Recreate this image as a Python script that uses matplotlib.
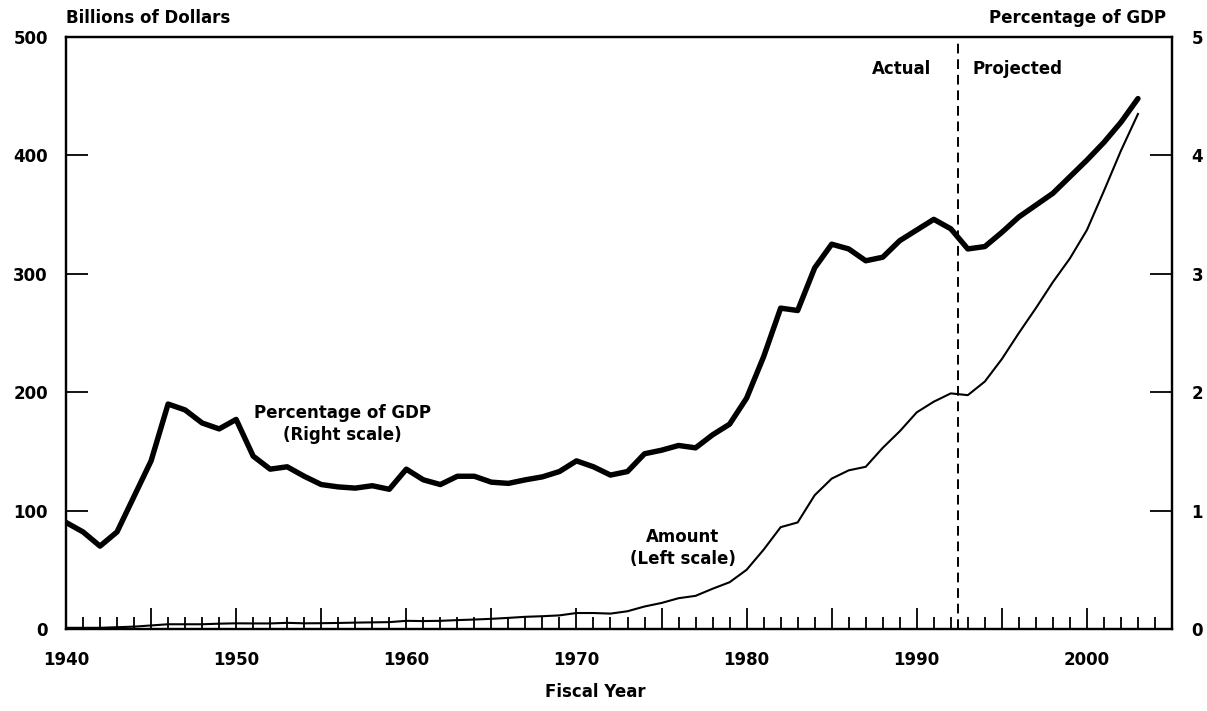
import matplotlib
matplotlib.use("Agg")
import matplotlib.pyplot as plt
from matplotlib.ticker import MultipleLocator, FuncFormatter

plt.rcParams['font.family'] = ['DejaVu Sans']
plt.rcParams['font.weight'] = 'bold'

years = list(range(1940, 2004))

# Net interest, percentage of GDP (right scale)
pct_gdp = [0.90, 0.82, 0.70, 0.82, 1.12, 1.42, 1.90, 1.85, 1.74, 1.69,
           1.77, 1.46, 1.35, 1.37, 1.29, 1.22, 1.20, 1.19, 1.21, 1.18,
           1.35, 1.26, 1.22, 1.29, 1.29, 1.24, 1.23, 1.26, 1.285, 1.33,
           1.42, 1.37, 1.30, 1.33, 1.48, 1.51, 1.55, 1.53, 1.64, 1.73,
           1.95, 2.30, 2.71, 2.69, 3.05, 3.25, 3.21, 3.11, 3.14, 3.28,
           3.37, 3.46, 3.38, 3.21, 3.23, 3.35, 3.48, 3.58, 3.68, 3.82,
           3.96, 4.11, 4.28, 4.48]

# Net interest amount, billions of dollars (left scale)
amount = [1, 1, 1, 1.5, 2, 3, 4, 4, 4, 4.5,
          4.8, 4.7, 4.7, 5.2, 4.8, 4.9, 5.1, 5.4, 5.6, 5.8,
          6.9, 6.7, 6.9, 7.5, 8.0, 8.6, 9.4, 10.3, 10.8, 11.5,
          13.5, 13.5, 13.0, 15.0, 19.0, 22.0, 26.0, 28.0, 34.0, 39.5,
          50.0, 67.0, 86.0, 90.0, 113.0, 127.0, 134.0, 137.0, 153.0, 167.0,
          183.0, 192.0, 199.0, 197.5, 209.0, 228.0, 250.0, 271.0, 293.0, 313.0,
          337.0, 370.0, 404.0, 435.0]

left_ticks = [0, 100, 200, 300, 400, 500]
right_ticks = [0, 1, 2, 3, 4, 5]
divider_year = 1992.4

W, H = 1207, 711
FS = 12
fig = plt.figure(figsize=(W / 100, H / 100), dpi=100)
ax = fig.add_axes([66 / W, 1 - 629 / H, (1172 - 66) / W, (629 - 37) / H])
ax2 = ax.twinx()

ax.set_xlim(1940, 2005)
ax.set_ylim(0, 500)
ax2.set_ylim(0, 5)

ax.plot(years, amount, color='black', lw=1.5, solid_joinstyle='round', zorder=3)
ax2.plot(years, pct_gdp, color='black', lw=3.9, solid_joinstyle='round',
         solid_capstyle='round', zorder=3)
ax.axvline(divider_year, color='black', lw=1.4, ls=(0, (5, 3)), zorder=2)

for a in (ax, ax2):
    for s in a.spines.values():
        s.set_linewidth(1.6)

ax.xaxis.set_major_locator(MultipleLocator(5))
ax.xaxis.set_minor_locator(MultipleLocator(1))
ax.xaxis.set_major_formatter(FuncFormatter(lambda v, p: f"{int(round(v))}" if int(round(v)) % 10 == 0 and v < 2004 else ""))
ax.tick_params(axis='x', which='major', direction='in', length=15, width=1.3,
               pad=15.5, labelsize=FS, top=False)
ax.tick_params(axis='x', which='minor', direction='in', length=9, width=1.3, top=False)

ax.set_yticks(left_ticks)
ax.set_yticklabels([str(t) for t in left_ticks])
ax.tick_params(axis='y', direction='in', length=16, width=1.3, pad=13,
               labelsize=FS, right=False)
ax2.set_yticks(right_ticks)
ax2.set_yticklabels([str(t) for t in right_ticks])
ax2.tick_params(axis='y', direction='in', length=16, width=1.3, pad=14,
                labelsize=FS)

for lbl in ax.get_xticklabels() + ax.get_yticklabels() + ax2.get_yticklabels():
    lbl.set_fontweight('bold')

def ftext(x, y, s, **kw):
    fig.text(x / W, 1 - y / H, s, fontsize=FS, fontweight='bold', **kw)

ftext(66, 18, "Billions of Dollars", ha='left', va='center')
ftext(1166, 18, "Percentage of GDP", ha='right', va='center')
ftext(595, 692, "Fiscal Year", ha='center', va='center')
ftext(931, 69, "Actual", ha='right', va='center')
ftext(972, 69, "Projected", ha='left', va='center')
ftext(342, 424, "Percentage of GDP\n(Right scale)", ha='center', va='center',
      linespacing=1.25)
ftext(683, 548, "Amount\n(Left scale)", ha='center', va='center',
      linespacing=1.25)

fig.savefig("out.png", dpi=100)
